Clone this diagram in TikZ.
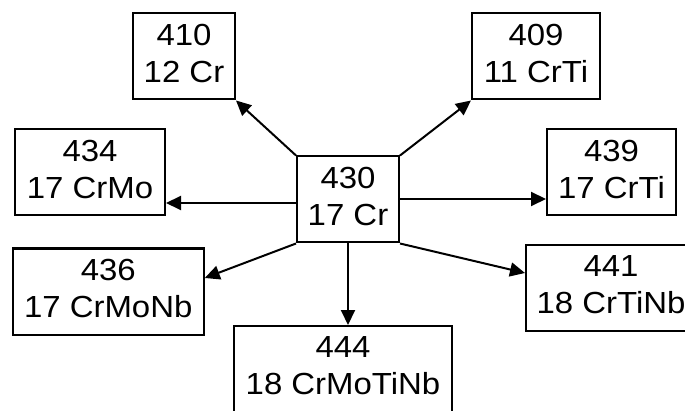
\documentclass[tikz,border=0pt]{standalone}
\usepackage{fontspec}
\setmainfont{Liberation Sans}[FakeStretch=1.08]
\usetikzlibrary{arrows.meta}
\newcommand{\lowstrut}{\rule[-7pt]{0pt}{7pt}}
\begin{document}
\begin{tikzpicture}[x=1pt,y=1pt,
  gradebox/.style={draw=black, line width=2pt, fill=white, inner sep=0pt,
    minimum height=86pt, align=center,
    font=\fontsize{30.5}{37}\selectfont},
  arr/.style={draw=black, line width=2pt,
    -{Triangle[length=15pt,width=14pt]}}]
  \useasboundingbox (0,0) rectangle (685,410);

  % central steel and its derived grades
  \node[gradebox, minimum width=102pt] (g430) at (348,210.5) {430\\17 Cr\lowstrut};
  \node[gradebox, minimum width=102pt] (g410) at (184,353.5) {410\\12 Cr\lowstrut};
  \node[gradebox, minimum width=128pt] (g409) at (536,353.5) {409\\11 CrTi\lowstrut};
  \node[gradebox, minimum width=150pt] (g434) at (90,237.5) {434\\17 CrMo\lowstrut};
  \node[gradebox, minimum width=129pt] (g439) at (611.5,237.5) {439\\17 CrTi\lowstrut};
  \node[gradebox, minimum width=191pt] (g436) at (108.25,118.5) {436\\17 CrMoNb\lowstrut};
  \node[gradebox, minimum width=170pt] (g441) at (611,122) {441\\18 CrTiNb\lowstrut};
  \node[gradebox, minimum width=218pt] (g444) at (343,41) {444\\18 CrMoTiNb\lowstrut};

  % connectors from 430
  \coordinate (w430) at ([yshift=-3.5pt]g430.west);
  \coordinate (e430) at ([yshift=0.5pt]g430.east);
  \draw[arr] (g430.north west) -- (g410.south east);
  \draw[arr] (g430.north east) -- (g409.south west);
  \draw[arr] (w430) -- (w430 -| g434.east);
  \draw[arr] (e430) -- (e430 -| g439.west);
  \draw[arr] (g430.south west) -- ([yshift=13.5pt]g436.east);
  \draw[arr] (g430.south) -- (g430.south |- g444.north);
  \draw[arr] (g430.south east) -- ([yshift=15pt]g441.west);
\end{tikzpicture}
\end{document}
